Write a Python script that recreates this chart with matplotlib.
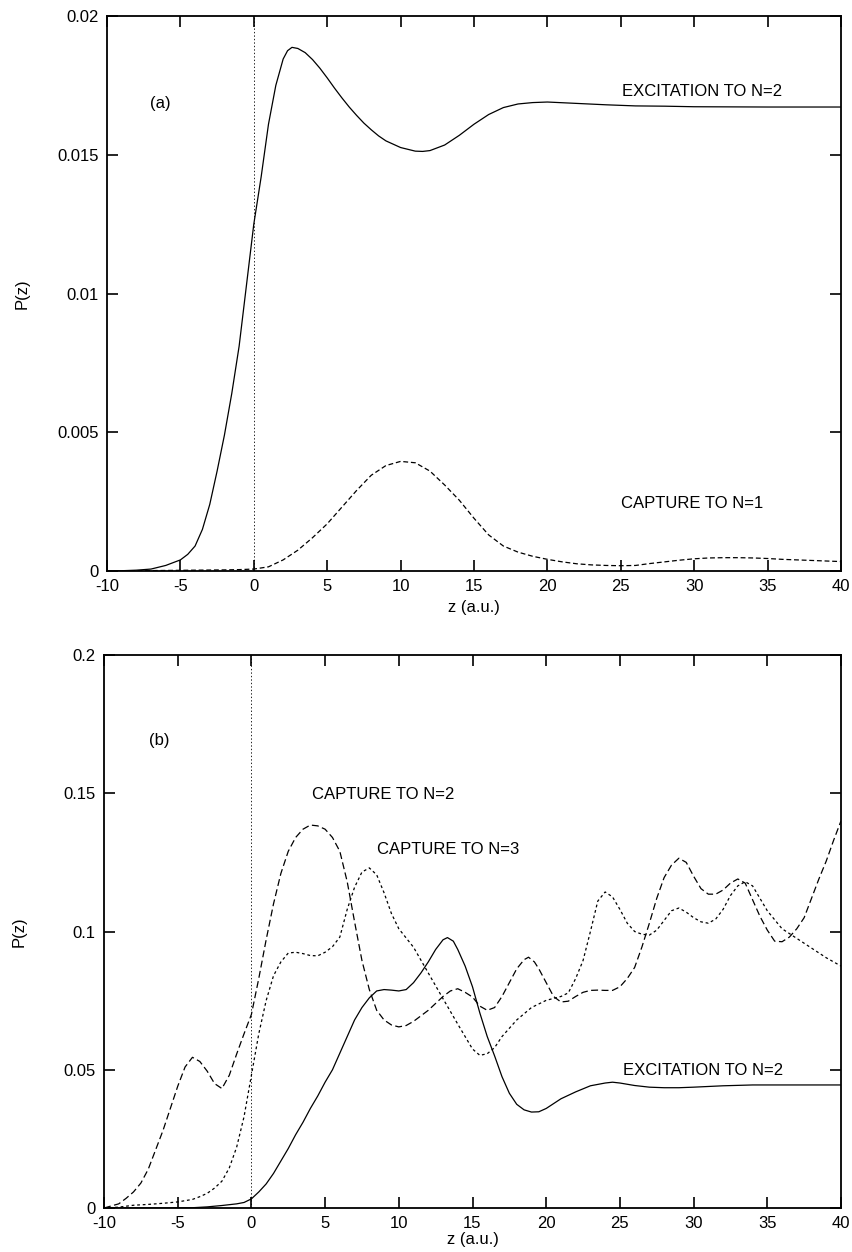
import numpy as np
import matplotlib
matplotlib.use("Agg")
import matplotlib.pyplot as plt

plt.rcParams['font.family'] = ['Liberation Sans', 'DejaVu Sans']
plt.rcParams['font.size'] = 12
plt.rcParams['axes.unicode_minus'] = False
plt.rcParams['lines.scale_dashes'] = False

# --- panel (a) ---
z_exc_a = [-10, -9, -8, -7, -6, -5, -4.5, -4, -3.5, -3, -2.5, -2, -1.5, -1, -0.5,
           0, 0.5, 1, 1.5, 2, 2.3, 2.6, 3, 3.5, 4, 4.5, 5, 5.5, 6, 6.5, 7, 7.5, 8,
           8.5, 9, 10, 11, 11.5, 12, 13, 14, 15, 16, 17, 18, 19, 20, 22, 24, 26, 28,
           30, 35, 40]
p_exc_a = [0, 0.00001, 0.00003, 0.00007, 0.0002, 0.0004, 0.0006, 0.0009, 0.0015,
           0.0024, 0.0036, 0.0049, 0.0064, 0.0081, 0.0103,
           0.0125, 0.0142, 0.0161, 0.0175, 0.01845, 0.01875, 0.01887, 0.01883,
           0.01868, 0.01843, 0.01812, 0.01777, 0.0174, 0.01705, 0.01672, 0.01642,
           0.01614, 0.0159, 0.01568, 0.0155, 0.01526, 0.01513, 0.01512, 0.01515,
           0.01535, 0.0157, 0.0161, 0.01645, 0.0167, 0.01683, 0.01688, 0.0169,
           0.01685, 0.0168, 0.01676, 0.01675, 0.01673, 0.01672, 0.01672]

z_cap1_a = [-10, -8, -6, -4, -2, -1, 0, 1, 2, 3, 4, 5, 6, 7, 8, 9, 10, 11, 12, 13,
            14, 15, 16, 17, 18, 19, 20, 21, 22, 23, 24, 25, 26, 27, 28, 29, 30, 31,
            32, 33, 34, 35, 36, 37, 38, 39, 40]
p_cap1_a = [0, 0.00001, 0.00002, 0.00003, 0.00004, 0.00005, 0.00007, 0.00015, 0.0004,
            0.00075, 0.0012, 0.0017, 0.0023, 0.0029, 0.00345, 0.0038, 0.00395, 0.0039,
            0.0036, 0.0031, 0.00255, 0.0019, 0.0013, 0.0009, 0.00068, 0.00053, 0.00042,
            0.00033, 0.00026, 0.00022, 0.0002, 0.00019, 0.0002, 0.00027, 0.00033,
            0.00039, 0.00044, 0.00047, 0.00048, 0.00048, 0.00047, 0.00045, 0.00042,
            0.0004, 0.00038, 0.00036, 0.00034]

# --- panel (b) ---
z_exc_b = [-10, -8, -6, -4, -3, -2, -1, -0.5, 0, 0.5, 1, 1.5, 2, 2.5, 3, 3.5, 4, 4.5,
           5, 5.5, 6, 6.5, 7, 7.5, 8, 8.5, 9, 9.5, 10, 10.5, 11, 11.5, 12, 12.5, 13,
           13.3, 13.7, 14, 14.5, 15, 15.5, 16, 16.5, 17, 17.5, 18, 18.5, 19, 19.5, 20,
           21, 22, 23, 24, 24.5, 25, 26, 27, 28, 29, 30, 32, 34, 36, 38, 40]
p_exc_b = [0, 0, 0, 0.0001, 0.0004, 0.0009, 0.0015, 0.002, 0.0033, 0.0058, 0.0087,
           0.0125, 0.017, 0.0215, 0.0265, 0.031, 0.036, 0.0405, 0.0455, 0.050, 0.056,
           0.062, 0.068, 0.0725, 0.076, 0.0785, 0.079, 0.0788, 0.0785, 0.079, 0.0815,
           0.085, 0.089, 0.0935, 0.097, 0.0978, 0.0965, 0.0935, 0.0875, 0.080, 0.0705,
           0.062, 0.055, 0.0475, 0.0415, 0.0375, 0.0355, 0.0347, 0.0348, 0.036,
           0.0395, 0.042, 0.0442, 0.0452, 0.0455, 0.0452, 0.0443, 0.0437, 0.0435,
           0.0435, 0.0437, 0.0442, 0.0445, 0.0445, 0.0445, 0.0445]

z_cap2_b = [-10, -9, -8.5, -8, -7.5, -7, -6.5, -6, -5.5, -5, -4.5, -4, -3.5, -3, -2.5,
            -2, -1.5, -1, -0.5, 0, 0.5, 1, 1.5, 2, 2.5, 3, 3.5, 4, 4.5, 5, 5.5, 6,
            6.5, 7, 7.5, 8, 8.5, 9, 9.5, 10, 10.5, 11, 11.5, 12, 12.5, 13, 13.5, 14,
            14.5, 15, 15.5, 16, 16.5, 17, 17.5, 18, 18.5, 18.8, 19.2, 19.5, 20, 20.5,
            21, 21.5, 22, 22.5, 23, 23.5, 24, 24.5, 25, 25.5, 26, 26.5, 27, 27.5, 28,
            28.5, 29, 29.5, 30, 30.5, 31, 31.5, 32, 32.5, 33, 33.5, 34, 34.5, 35,
            35.5, 36, 36.5, 37, 37.5, 38, 38.5, 39, 39.5, 40]
p_cap2_b = [0, 0.0015, 0.0035, 0.0058, 0.009, 0.014, 0.021, 0.028, 0.036, 0.044, 0.051,
            0.0545, 0.053, 0.0495, 0.045, 0.0432, 0.048, 0.0557, 0.063, 0.070, 0.083,
            0.097, 0.110, 0.121, 0.129, 0.134, 0.137, 0.1385, 0.1382, 0.137, 0.134,
            0.129, 0.118, 0.1035, 0.0895, 0.079, 0.0715, 0.068, 0.0662, 0.0655, 0.066,
            0.0675, 0.0695, 0.0715, 0.074, 0.0765, 0.0785, 0.0793, 0.078, 0.0763,
            0.073, 0.0715, 0.0725, 0.0765, 0.0815, 0.0865, 0.0898, 0.0907, 0.089,
            0.0865, 0.0815, 0.0765, 0.0745, 0.0748, 0.0765, 0.078, 0.0787, 0.0788,
            0.0787, 0.0787, 0.080, 0.083, 0.087, 0.0945, 0.103, 0.112, 0.1195, 0.124,
            0.1265, 0.125, 0.120, 0.1155, 0.1135, 0.1135, 0.115, 0.1175, 0.119,
            0.1175, 0.1115, 0.1055, 0.1005, 0.0965, 0.0963, 0.098, 0.101, 0.105,
            0.112, 0.119, 0.1255, 0.133, 0.140]

z_cap3_b = [-10, -9, -8, -7, -6, -5, -4, -3.5, -3, -2.5, -2, -1.5, -1, -0.5, 0, 0.5, 1,
            1.5, 2, 2.5, 3, 3.5, 4, 4.5, 5, 5.5, 6, 6.5, 7, 7.5, 8, 8.5, 9, 9.5, 10,
            11, 12, 13, 14, 15, 15.5, 16, 16.5, 17, 18, 19, 20, 21, 21.5, 22, 22.5, 23,
            23.5, 24, 24.5, 25, 25.5, 26, 26.5, 27, 27.5, 28, 28.5, 29, 29.5, 30, 30.5,
            31, 31.5, 32, 32.5, 33, 33.5, 34, 34.5, 35, 36, 37, 38, 39, 40]
p_cap3_b = [0, 0.0003, 0.001, 0.0013, 0.0017, 0.0022, 0.0031, 0.0041, 0.0053, 0.0072,
            0.0097, 0.0145, 0.022, 0.033, 0.048, 0.063, 0.075, 0.084, 0.089, 0.0922,
            0.0925, 0.092, 0.0913, 0.0912, 0.0925, 0.0945, 0.098, 0.108, 0.116, 0.1215,
            0.123, 0.1205, 0.114, 0.1065, 0.101, 0.0943, 0.085, 0.0757, 0.0665, 0.0575,
            0.0552, 0.0558, 0.058, 0.062, 0.068, 0.0725, 0.0751, 0.0765, 0.0778, 0.083,
            0.0895, 0.100, 0.111, 0.1143, 0.1125, 0.108, 0.103, 0.100, 0.099, 0.0987,
            0.1005, 0.104, 0.1075, 0.1085, 0.107, 0.105, 0.1035, 0.103, 0.1045, 0.108,
            0.113, 0.1165, 0.118, 0.1165, 0.112, 0.1075, 0.101, 0.0975, 0.094, 0.0905,
            0.0875]

x_ticks = [-10, -5, 0, 5, 10, 15, 20, 25, 30, 35, 40]
y_ticks_a = [0, 0.005, 0.01, 0.015, 0.02]
y_labels_a = ["0", "0.005", "0.01", "0.015", "0.02"]
y_ticks_b = [0, 0.05, 0.1, 0.15, 0.2]
y_labels_b = ["0", "0.05", "0.1", "0.15", "0.2"]

W, H = 852, 1252
fig = plt.figure(figsize=(W / 100, H / 100), dpi=100)
ax1 = fig.add_axes([107 / W, 1 - 571 / H, 734 / W, 555 / H])
ax2 = fig.add_axes([104 / W, 1 - 1208 / H, 737 / W, 553 / H])


def estilo(ax, yt, yl, ymax, ylab_y):
    ax.set_xlim(-10, 40)
    ax.set_ylim(0, ymax)
    ax.set_xticks(x_ticks)
    ax.set_xticklabels([str(t) for t in x_ticks])
    ax.set_yticks(yt)
    ax.set_yticklabels(yl)
    ax.tick_params(direction='in', top=True, right=True, length=8, width=1.2,
                   labelsize=12, pad=6)
    for s in ax.spines.values():
        s.set_linewidth(1.3)
    ax.axvline(0, color='black', lw=0.6, linestyle=(0, (1, 1.5)))
    ax.set_xlabel("z (a.u.)", fontsize=12)
    ax.set_ylabel("P(z)", fontsize=12)
    ax.yaxis.set_label_coords(-0.105, 0.5)
    ax.xaxis.set_label_coords(0.5, ylab_y)


# --- painel (a) ---
estilo(ax1, y_ticks_a, y_labels_a, 0.02, -0.052)
ax1.plot(z_exc_a, p_exc_a, color='black', lw=0.9)
ax1.plot(z_cap1_a, p_cap1_a, color='black', lw=0.9, linestyle=(0, (3.5, 2)))
ax1.text(-6.4, 0.01686, "(a)", ha='center', va='center', fontsize=12)
ax1.text(25.08, 0.01727, "EXCITATION TO N=2", ha='left', va='center', fontsize=12)
ax1.text(25.0, 0.00244, "CAPTURE TO N=1", ha='left', va='center', fontsize=12)

# --- painel (b) ---
estilo(ax2, y_ticks_b, y_labels_b, 0.2, -0.043)
ax2.plot(z_exc_b, p_exc_b, color='black', lw=0.9)
ax2.plot(z_cap2_b, p_cap2_b, color='black', lw=0.9, linestyle=(0, (5, 2.5)))
ax2.plot(z_cap3_b, p_cap3_b, color='black', lw=0.9, linestyle=(0, (2, 2)))
ax2.text(-6.25, 0.169, "(b)", ha='center', va='center', fontsize=12)
ax2.text(4.09, 0.1495, "CAPTURE TO N=2", ha='left', va='center', fontsize=12)
ax2.text(8.54, 0.1295, "CAPTURE TO N=3", ha='left', va='center', fontsize=12)
ax2.text(25.2, 0.0499, "EXCITATION TO N=2", ha='left', va='center', fontsize=12)

fig.savefig("out.png", dpi=100)
